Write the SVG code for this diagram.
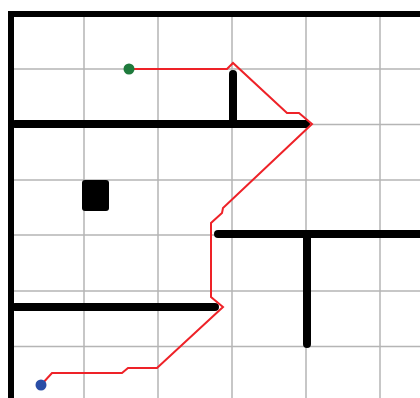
<svg xmlns="http://www.w3.org/2000/svg" width="420" height="398" viewBox="0 0 420 398">
  <style>
    .grid { stroke: #b5b5b5; stroke-width: 1.5; fill: none; }
    .outer { stroke: #000; stroke-width: 6; stroke-linecap: square; fill: none; }
    .wall { stroke: #000; stroke-width: 8; stroke-linecap: round; fill: none; }
    .path { stroke: #ee2228; stroke-width: 2; fill: none; stroke-linejoin: miter; }
  </style>
  <rect width="420" height="398" fill="#ffffff"/>
  <g id="grid" class="grid">
    <line x1="84" y1="14" x2="84" y2="398"/>
    <line x1="158" y1="14" x2="158" y2="398"/>
    <line x1="232" y1="14" x2="232" y2="398"/>
    <line x1="306" y1="14" x2="306" y2="398"/>
    <line x1="380" y1="14" x2="380" y2="398"/>
    <line x1="11" y1="69" x2="420" y2="69"/>
    <line x1="11" y1="124.5" x2="420" y2="124.5"/>
    <line x1="11" y1="180" x2="420" y2="180"/>
    <line x1="11" y1="235" x2="420" y2="235"/>
    <line x1="11" y1="291" x2="420" y2="291"/>
    <line x1="11" y1="346.5" x2="420" y2="346.5"/>
  </g>
  <g id="walls">
    <line class="wall" x1="15" y1="124" x2="306" y2="124"/>
    <line class="wall" x1="233" y1="74" x2="233" y2="124"/>
    <line class="wall" x1="218" y1="234" x2="424" y2="234"/>
    <line class="wall" x1="307" y1="234" x2="307" y2="344"/>
    <line class="wall" x1="15" y1="307" x2="215" y2="307"/>
  </g>
  <g id="outer-walls">
    <line class="outer" x1="11" y1="14" x2="423" y2="14"/>
    <line class="outer" x1="11" y1="14" x2="11" y2="401"/>
  </g>
  <g id="obstacle">
    <rect x="82" y="180" width="27" height="31" rx="3" fill="#000"/>
  </g>
  <g id="connectors">
    <polyline class="path" points="129,69 227,69 233,63 287,113 299,113 312,124 223,208 222,213 211,223 211,297 223,307 157,368 128,368 122,373 52,373 41,385"/>
  </g>
  <g id="start">
    <circle cx="129" cy="69" r="5.5" fill="#1e7a3c"/>
  </g>
  <g id="goal">
    <circle cx="41" cy="385" r="5.5" fill="#2a4ea6"/>
  </g>
</svg>
